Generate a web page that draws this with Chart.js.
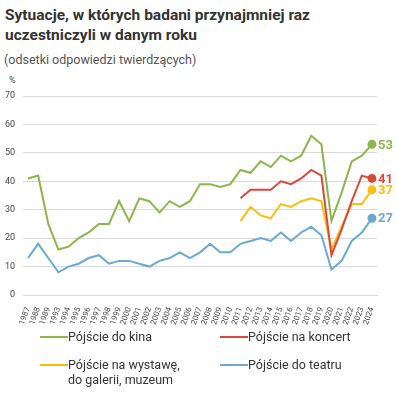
<!DOCTYPE html>
<html lang="pl">
<head>
<meta charset="utf-8">
<script src="https://cdn.jsdelivr.net/npm/chart.js@4.4.1/dist/chart.umd.min.js"></script>
<style>
  body { margin: 0; width: 397px; height: 397px; background: #fff; font-family: Roboto, sans-serif; position: relative; overflow: hidden; }
  #tytul { position: absolute; left: 5px; top: 6px; font-size: 15.5px; font-weight: bold; color: #333; line-height: 19.5px; }
  #podtytul { position: absolute; left: 4px; top: 52px; font-size: 12.5px; color: #555; }
  #procent { position: absolute; left: 9px; top: 75px; font-size: 9px; color: #444; }
  #wykres-box { position: absolute; left: 0; top: 72px; width: 397px; height: 262px; }
  #legenda { position: absolute; left: 40px; top: 329px; width: 357px; display: grid; grid-template-columns: 180px 177px; row-gap: 13px; font-size: 12.5px; color: #333; line-height: 15px; }
  .poz { display: flex; align-items: flex-start; }
  .kreska { width: 28px; height: 2px; margin-top: 7px; flex: none; }
</style>
</head>
<body>
<div id="tytul">Sytuacje, w których badani przynajmniej raz<br>uczestniczyli w danym roku</div>
<div id="podtytul">(odsetki odpowiedzi twierdzących)</div>
<div id="procent">%</div>
<div id="wykres-box"><canvas id="wykres"></canvas></div>
<div id="legenda"></div>

<script>
const lata = ['1987','1988','1989','1993','1994','1995','1996','1997','1998','1999','2000','2001','2002','2003','2004','2005','2006','2007','2008','2009','2010','2011','2012','2013','2014','2015','2016','2017','2018','2019','2020','2021','2022','2023','2024'];

const kino = [41,42,25,16,17,20,22,25,25,33,26,34,33,29,33,31,33,39,39,38,39,44,43,47,45,49,47,49,56,53,26,36,47,49,53];
const koncert = [null,null,null,null,null,null,null,null,null,null,null,null,null,null,null,null,null,null,null,null,null,34,37,37,37,40,39,41,44,42,14,23,33,42,41];
const wystawa = [null,null,null,null,null,null,null,null,null,null,null,null,null,null,null,null,null,null,null,null,null,26,31,28,27,32,31,33,34,33,16,24,32,32,37];
const teatr = [13,18,13,8,10,11,13,14,11,12,12,11,10,12,13,15,13,15,18,15,15,18,19,20,19,22,19,22,24,21,9,12,19,22,27];

const etykiety = ['Pójście do kina', 'Pójście na koncert', 'Pójście na wystawę,\ndo galerii, muzeum', 'Pójście do teatru'];
const kolory = ['#8cb54b', '#d9493a', '#f7bf0b', '#6aa9d1'];

const ostatni = lata.length - 1;

function zbiorDanych(i, dane) {
  return {
    label: etykiety[i],
    data: dane,
    borderColor: kolory[i],
    backgroundColor: kolory[i],
    borderWidth: 2,
    tension: 0,
    pointRadius: ctx => ctx.dataIndex === ostatni ? 3.5 : 0,
    pointHoverRadius: 0,
    spanGaps: false
  };
}

// etykiety wartosci na koncu linii
const koncowki = {
  id: 'koncowki',
  afterDatasetsDraw(chart) {
    const ctx = chart.ctx;
    ctx.save();
    ctx.font = 'bold 13px Roboto, sans-serif';
    ctx.textBaseline = 'middle';
    ctx.textAlign = 'left';
    chart.data.datasets.forEach((ds, i) => {
      const pkt = chart.getDatasetMeta(i).data[ostatni];
      ctx.fillStyle = ds.borderColor;
      ctx.fillText(String(ds.data[ostatni]), pkt.x + 6, pkt.y + 1);
    });
    ctx.restore();
  }
};

const wykres = new Chart(document.getElementById('wykres'), {
  type: 'line',
  data: {
    labels: lata,
    datasets: [
      zbiorDanych(0, kino),
      zbiorDanych(1, koncert),
      zbiorDanych(2, wystawa),
      zbiorDanych(3, teatr)
    ]
  },
  options: {
    responsive: true,
    maintainAspectRatio: false,
    animation: false,
    layout: { padding: { top: 24, right: 20, left: 0, bottom: 0 } },
    plugins: {
      legend: { display: false },
      tooltip: { enabled: false }
    },
    scales: {
      x: {
        offset: true,
        afterFit: s => { s.height = 39; },
        grid: { display: false },
        border: { color: '#d9d9d9' },
        ticks: {
          color: '#444',
          font: { size: 8, family: 'Roboto, sans-serif' },
          minRotation: 70,
          maxRotation: 70,
          autoSkip: false,
          padding: 3
        }
      },
      y: {
        min: 0,
        max: 70,
        afterFit: s => { s.width = 23; },
        grid: { color: '#d9d9d9', drawTicks: false },
        border: { display: false },
        ticks: {
          stepSize: 10,
          color: '#444',
          font: { size: 9, family: 'Roboto, sans-serif' },
          padding: 8
        }
      }
    }
  },
  plugins: [koncowki]
});

// legenda w HTML
const legenda = document.getElementById('legenda');
etykiety.forEach((tekst, i) => {
  const poz = document.createElement('div');
  poz.className = 'poz';
  const kreska = document.createElement('span');
  kreska.className = 'kreska';
  kreska.style.background = kolory[i];
  const opis = document.createElement('span');
  opis.innerHTML = tekst.replace('\n', '<br>');
  poz.appendChild(kreska);
  poz.appendChild(opis);
  legenda.appendChild(poz);
});
</script>
</body>
</html>
